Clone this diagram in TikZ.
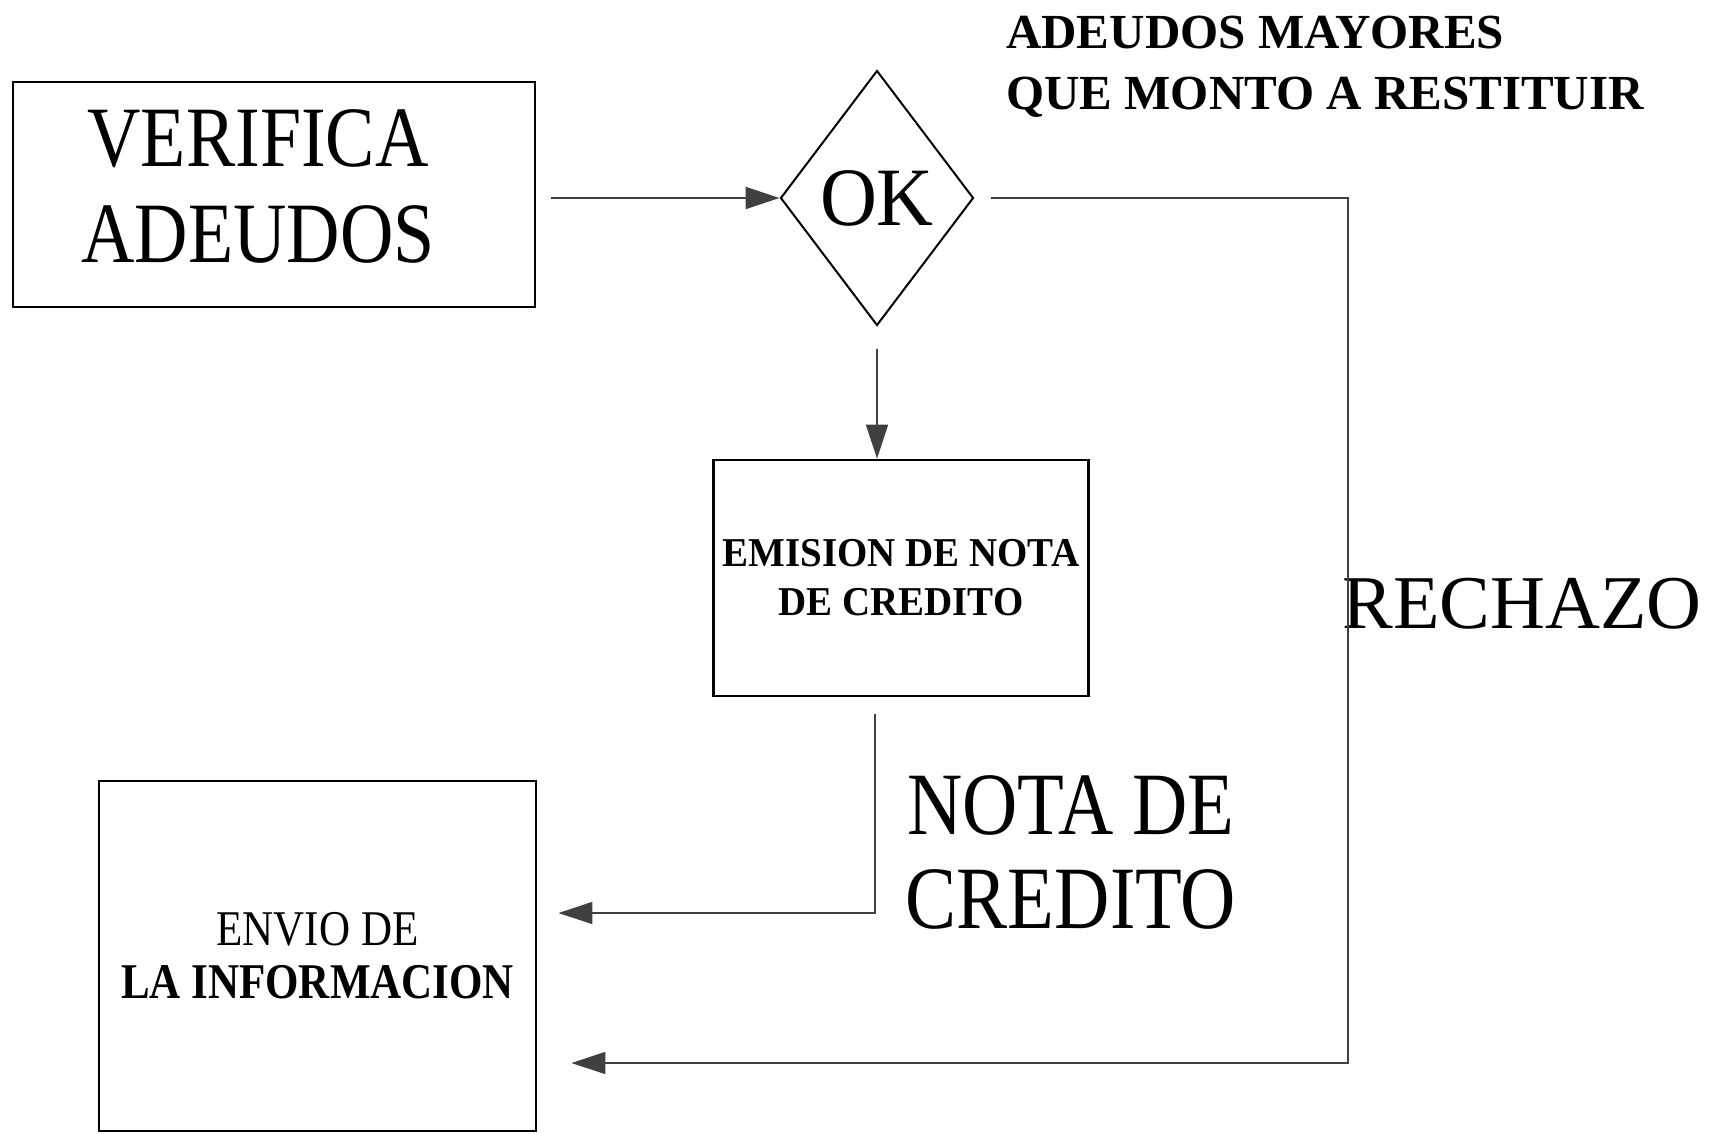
\documentclass[tikz,border=0pt]{standalone}
\usepackage{fontspec}
\setmainfont{Liberation Serif}
\newfontfamily\estrecha[FakeStretch=0.86]{Liberation Serif}
\newfontfamily\semiestrecha[FakeStretch=0.95]{Liberation Serif}
\usetikzlibrary{shapes.geometric,arrows.meta}

\tikzset{
  caja/.style={draw, line width=2.8pt, inner sep=0pt, align=center},
  rombo/.style={diamond, draw, line width=2pt, inner sep=0pt,
    minimum width=193pt, minimum height=255pt},
  flecha/.style={line width=2pt, draw=black!75,
    -{Triangle[length=34pt,width=22pt]}},
}

\begin{document}
\begin{tikzpicture}[x=1pt,y=-1pt]
\useasboundingbox (0,0) rectangle (1719,1134);
% cajas
\node[caja, minimum width=522pt, minimum height=225pt] (verif) at (274,194.5) {};
\node[align=center, inner sep=0pt, font=\estrecha\fontsize{86}{96}\selectfont]
  (veriftxt) at (258,186) {VERIFICA\\ADEUDOS};
\node[rombo, font=\semiestrecha\fontsize{83}{90}\selectfont] (ok) at (877,198) {OK};
\node[caja, minimum width=375pt, minimum height=236pt,
  font=\semiestrecha\bfseries\fontsize{41}{49}\selectfont] (emision) at (901,578) {EMISION DE NOTA\\DE CREDITO};
\node[caja, minimum width=437pt, minimum height=350pt,
  font=\estrecha\fontsize{50}{53}\selectfont] (envio) at (317.5,956) {ENVIO DE\\\textbf{LA INFORMACION}};
% textos
\node[align=left, anchor=west, inner sep=0pt,
  font=\bfseries\fontsize{49}{61}\selectfont] (mayores) at (1006,67) {ADEUDOS MAYORES\\QUE MONTO A RESTITUIR};
\node[inner sep=0pt, font=\fontsize{76}{80}\selectfont] (rechazo) at (1522,604) {RECHAZO};
\node[inner sep=0pt, align=center,
  font=\estrecha\fontsize{89}{94}\selectfont] (nota) at (1071,852) {NOTA DE\\CREDITO};
% conectores
\coordinate (esquina) at (1348,1063);
\coordinate (codo) at (875,913);
\draw[flecha] ([xshift=15pt]verif.east |- ok.west) -- (ok.west);
\draw[flecha, shorten <=22pt] (ok.south) -- (ok.south |- emision.north);
\draw[flecha, shorten <=16pt] (ok.east) -| (esquina) -- ([xshift=34pt]envio.east |- esquina);
\draw[flecha, shorten <=17pt] (codo |- emision.south) -- (codo) -- ([xshift=21pt]envio.east |- codo);
\end{tikzpicture}
\end{document}
